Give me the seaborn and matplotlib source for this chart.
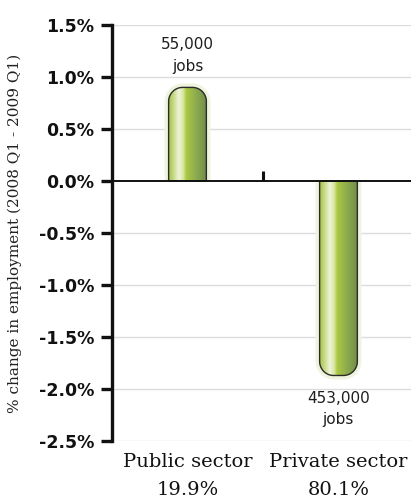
import numpy as np
import pandas as pd
import matplotlib
matplotlib.use("Agg")
import matplotlib.pyplot as plt
import seaborn as sns
from matplotlib.path import Path
from matplotlib.patches import PathPatch
from matplotlib.colors import LinearSegmentedColormap

# ---- data ----
sectors = ["Public sector", "Private sector"]
shares = ["19.9%", "80.1%"]
changes = [0.90, -1.87]
job_labels = ["55,000\njobs", "453,000\njobs"]
yticks = [1.5, 1.0, 0.5, 0.0, -0.5, -1.0, -1.5, -2.0, -2.5]
ytick_labels = ["1.5%", "1.0%", "0.5%", "0.0%", "-0.5%", "-1.0%", "-1.5%", "-2.0%", "-2.5%"]
ylabel = "% change in employment (2008 Q1 - 2009 Q1)"

df = pd.DataFrame({"sector": sectors, "change": changes})

sns.set_theme(style="white")
plt.rcParams["font.family"] = ["DejaVu Sans"]

W, H, DPI = 411, 498, 100
fig = plt.figure(figsize=(W / DPI, H / DPI), dpi=DPI)
ax_left, ax_right, ax_top, ax_bot = 112, 414, 25, 441
ax = fig.add_axes([ax_left / W, 1 - ax_bot / H, (ax_right - ax_left) / W, (ax_bot - ax_top) / H])

sns.barplot(data=df, x="sector", y="change", width=0.25, ax=ax,
            color="#a9c73f", linewidth=0, zorder=0)
ax.set_xlim(-0.5, 1.5)
ax.set_ylim(-2.5, 1.5)

# grid
for t in yticks:
    if t != 0:
        ax.axhline(t, color="#dcdcdc", lw=1.0, zorder=0.5)

# pixel -> data scale
px_x = 2.0 / (ax_right - ax_left)
px_y = 4.0 / (ax_bot - ax_top)

cmap = LinearSegmentedColormap.from_list("bar", [
    (0.0, "#a9c553"), (0.10, "#c2d87a"), (0.26, "#eef3d9"), (0.38, "#d6e59c"),
    (0.46, "#a9c73f"), (0.62, "#97b54c"), (0.85, "#7f9d4c"), (1.0, "#6f8b46")])


def pill_path(x0, x1, base, end, r_px):
    rx = r_px * px_x
    ry = r_px * px_y
    s = 1 if end > base else -1
    pts = [(x0, base)]
    th = np.linspace(np.pi, np.pi / 2, 24)
    cx = x0 + rx
    cy = end - s * ry
    for t in th:
        pts.append((cx + rx * np.cos(t), cy + s * ry * np.sin(t)))
    cx = x1 - rx
    th = np.linspace(np.pi / 2, 0, 24)
    for t in th:
        pts.append((cx + rx * np.cos(t), cy + s * ry * np.sin(t)))
    pts.append((x1, base))
    pts.append((x0, base))
    return Path(pts, closed=True)


bars = list(ax.patches)
for p in bars:
    x0 = p.get_x()
    w = p.get_width()
    x1 = x0 + w
    h = p.get_height()
    base = p.get_y()
    end = base + h
    p.set_visible(False)
    s = 1 if h > 0 else -1
    g = 4
    glow = pill_path(x0 - g * px_x, x1 + g * px_x, base, end + s * g * px_y, 14 + g)
    ax.add_patch(PathPatch(glow, facecolor="#eff4de", edgecolor="none", zorder=1))
    path = pill_path(x0, x1, base, end, 14)
    img = ax.imshow(np.linspace(0, 1, 200).reshape(1, -1), cmap=cmap, aspect="auto",
                    extent=[x0, x1, min(base, end), max(base, end)], zorder=2,
                    interpolation="bilinear")
    clip = PathPatch(path, transform=ax.transData, facecolor="none")
    img.set_clip_path(clip)
    ax.add_patch(PathPatch(path, facecolor="none", edgecolor="#2b2b2b", lw=1.0, zorder=3))

ax.set_xlim(-0.5, 1.5)
ax.set_ylim(-2.5, 1.5)

# value annotations
for i, (v, lab) in enumerate(zip(changes, job_labels)):
    if v > 0:
        ax.annotate(lab, xy=(i, v), xytext=(0, 10), textcoords="offset points",
                    ha="center", va="bottom", fontsize=11, color="#1e1e1e",
                    linespacing=1.55)
    else:
        ax.annotate(lab, xy=(i, v), xytext=(0, -11), textcoords="offset points",
                    ha="center", va="top", fontsize=11, color="#1e1e1e",
                    linespacing=1.55)

# spines
for side in ["top", "right"]:
    ax.spines[side].set_visible(False)
ax.spines["left"].set_linewidth(2.4)
ax.spines["left"].set_color("#111111")
ax.spines["bottom"].set_position(("data", 0))
ax.spines["bottom"].set_linewidth(1.4)
ax.spines["bottom"].set_color("#111111")
ax.spines["bottom"].set_zorder(4)

ax.set_yticks(yticks)
ax.set_yticklabels(ytick_labels, fontsize=12.5, fontweight="bold", color="#111111")
ax.tick_params(axis="y", direction="out", length=8, width=2.4, color="#111111", pad=5, left=True)

ax.set_xticks([0.5])
ax.set_xticklabels([""])
ax.tick_params(axis="x", direction="in", length=7, width=2.2, color="#111111", bottom=True)

ax.set_xlabel("")
ax.set_ylabel(ylabel, fontsize=11, family="DejaVu Serif", color="#222222")
ax.yaxis.set_label_coords((22 - ax_left) / (ax_right - ax_left), 0.5)

for i, (s, sh) in enumerate(zip(sectors, shares)):
    ax.text(i, -0.03, s + "\n" + sh, transform=ax.get_xaxis_transform(),
            ha="center", va="top", fontsize=14, family="DejaVu Serif",
            color="#111111", linespacing=1.65)

fig.savefig("out.png", dpi=DPI)
